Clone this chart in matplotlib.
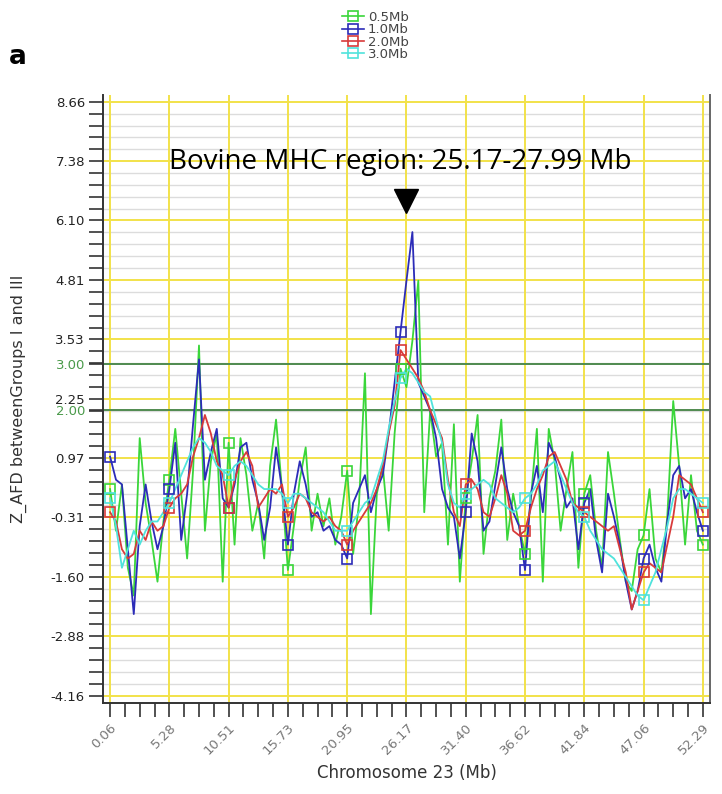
import numpy as np
import matplotlib
matplotlib.use("Agg")
import matplotlib.pyplot as plt
from matplotlib.lines import Line2D
from matplotlib.legend_handler import HandlerLine2D
import matplotlib.transforms as mtransforms

# window centres along chromosome 23 (Mb)
pos = np.linspace(0.06, 52.29, 101)

z_05 = [0.3, -0.6, 0.4, -1.4, -2.0, 1.4, 0.0, -0.8, -1.7, -0.4,
        0.5, 1.6, 0.2, -1.2, 0.7, 3.4, -0.6, 0.9, 1.5, -1.7,
        1.3, -0.9, 1.4, 0.6, -0.6, 0.0, -1.2, 0.8, 1.8, 0.3,
        -1.45, -0.5, 0.5, 1.2, -0.6, 0.2, -0.5, 0.1, -0.9, -0.3,
        0.7, -1.1, 0.0, 2.8, -2.4, 0.2, 0.8, -0.6, 1.5, 2.9,
        2.5, 3.5, 4.8, -0.2, 2.0, 1.0, 1.3, -0.9, 1.7, -1.7,
        0.1, 0.9, 1.9, -1.1, 0.1, 0.7, 1.8, -0.8, 0.2, -0.5,
        -1.1, 0.1, 1.6, -1.7, 1.6, 0.9, -0.6, 0.3, 1.1, -1.4,
        0.2, 0.6, -0.6, -1.4, 1.1, 0.2, -0.8, -1.7, -1.9, -1.0,
        -0.7, 0.3, -1.2, -1.5, -0.3, 2.2, 0.8, -0.9, 0.6, -0.6,
        -0.9]

z_10 = [1.0, 0.5, 0.4, -1.0, -2.4, -0.5, 0.4, -0.4, -1.0, -0.5,
        0.3, 1.3, -0.8, 0.2, 1.7, 3.1, 0.5, 1.1, 1.6, 0.1,
        -0.1, 0.4, 1.2, 1.3, 0.5, 0.0, -0.8, -0.1, 1.2, 0.3,
        -0.9, 0.2, 0.9, 0.4, -0.3, -0.2, -0.6, -0.5, -0.8, -0.9,
        -1.2, 0.0, 0.3, 0.6, -0.2, 0.3, 0.6, 1.5, 2.6, 3.7,
        4.8, 5.85, 2.6, 2.3, 2.0, 1.4, 0.3, -0.1, -0.3, -1.2,
        -0.2, 1.5, 0.9, -0.6, -0.4, 0.4, 1.2, 0.3, -0.2, -0.5,
        -1.45, 0.2, 0.8, -0.2, 1.3, 1.0, 0.5, -0.1, 0.1, -1.0,
        0.0, 0.3, -0.8, -1.5, 0.2, -0.3, -0.9, -1.7, -2.3, -1.9,
        -1.2, -0.9, -1.4, -1.7, -0.4, 0.6, 0.8, 0.1, 0.3, -0.2,
        -0.6]

z_20 = [-0.2, -0.4, -1.0, -1.2, -1.1, -0.6, -0.8, -0.4, -0.6, -0.5,
        -0.1, 0.1, 0.2, 0.4, 1.0, 1.4, 1.9, 1.5, 0.9, 0.6,
        -0.1, 0.5, 0.9, 1.1, 0.8, -0.1, 0.1, 0.3, 0.2, 0.4,
        -0.3, -0.1, 0.2, 0.1, -0.2, -0.3, -0.4, -0.3, -0.5, -0.6,
        -0.9, -0.6, -0.4, -0.2, 0.0, 0.3, 0.8, 1.5, 2.1, 3.3,
        3.1, 2.9, 2.7, 2.4, 2.0, 1.7, 1.4, 0.5, -0.2, -0.5,
        0.4, 0.5, 0.3, -0.2, -0.3, 0.1, 0.6, 0.2, -0.6, -0.7,
        -0.6, -0.1, 0.3, 0.6, 1.0, 1.1, 0.8, 0.5, 0.0, -0.1,
        -0.2, -0.3, -0.4, -0.5, -0.6, -0.5, -1.0, -1.5, -2.3, -1.9,
        -1.5, -1.3, -1.4, -1.5, -0.9, -0.3, 0.6, 0.5, 0.4, 0.1,
        -0.2]

z_30 = [0.1, -0.5, -1.4, -1.0, -0.6, -0.9, -0.6, -0.4, -0.4, -0.2,
        0.0, 0.3, 0.6, 0.9, 1.2, 1.4, 1.3, 1.1, 0.8, 0.7,
        0.6, 0.8, 0.9, 0.8, 0.6, 0.4, 0.3, 0.3, 0.3, 0.2,
        0.0, 0.2, 0.2, 0.1, 0.0, -0.1, -0.2, -0.4, -0.6, -0.6,
        -0.6, -0.4, -0.2, 0.0, 0.1, 0.5, 0.9, 1.6, 2.2, 2.7,
        2.9, 2.8, 2.6, 2.4, 2.3, 1.8, 1.3, 0.4, 0.0, -0.1,
        0.2, 0.3, 0.4, 0.5, 0.4, 0.1, 0.0, -0.1, -0.2, -0.1,
        0.1, 0.2, 0.4, 0.7, 0.8, 0.9, 0.6, 0.3, 0.0, -0.2,
        -0.3, -0.6, -0.8, -1.0, -1.1, -1.2, -1.4, -1.6, -1.8, -2.0,
        -2.1, -1.8, -1.5, -1.0, -0.5, 0.1, 0.3, 0.3, 0.2, 0.1,
        0.0]

series = [("0.5Mb", z_05, "#3ad63a"),
          ("1.0Mb", z_10, "#2c2cb8"),
          ("2.0Mb", z_20, "#d83a3a"),
          ("3.0Mb", z_30, "#4fe3dc")]

xticks = [0.06, 5.28, 10.51, 15.73, 20.95, 26.17, 31.40, 36.62, 41.84, 47.06, 52.29]
yticks = [-4.16, -2.88, -1.60, -0.31, 0.97, 2.25, 3.53, 4.81, 6.10, 7.38, 8.66]
thresholds = [3.00, 2.00]
mhc_label = "Bovine MHC region: 25.17-27.99 Mb"
mhc_pos = 26.17
marker_idx = [0, 10, 20, 30, 40, 49, 60, 70, 80, 90, 100]


class LeftMarkerHandler(HandlerLine2D):
    def get_xdata(self, legend, xdescent, ydescent, width, height, fontsize):
        xline = np.array([-xdescent + 5, -xdescent + width])
        xmark = np.array([-xdescent])
        return xline, xmark


fig = plt.figure(figsize=(7.22, 7.94), dpi=100)
ax = fig.add_axes([0.1427, 0.1146, 0.8407, 0.7658])

# grid
ax.set_xlim(-0.56, 52.92)
ax.set_ylim(-4.32, 8.81)
minor_y = []
for a, b in zip(yticks[:-1], yticks[1:]):
    minor_y += list(np.linspace(a, b, 6)[1:-1])
minor_x = []
for a, b in zip(xticks[:-1], xticks[1:]):
    minor_x += list(np.linspace(a, b, 5)[1:-1])

for y in minor_y:
    ax.axhline(y, color="#dcdcdc", lw=1.0, zorder=0)
for y in yticks:
    ax.axhline(y, color="#f2e24a", lw=1.4, zorder=0.5)
for x in xticks:
    ax.axvline(x, color="#f2e24a", lw=1.4, zorder=0.5)
for t in thresholds:
    ax.axhline(t, color="#4f8a4f", lw=1.4, zorder=0.8)

handles = []
for name, vals, col in series:
    ax.plot(pos, vals, color=col, lw=1.3, zorder=2)
    ax.plot(pos[marker_idx], np.array(vals)[marker_idx], ls="none", marker="s",
            ms=6.5, mfc="none", mec=col, mew=1.2, zorder=3)
    handles.append(Line2D([], [], color=col, lw=1.2, marker="s", ms=6.5,
                          mfc="none", mec=col, mew=1.2, label=name))

# ticks
ax.set_xticks(xticks)
ax.set_xticklabels([f"{v:.2f}" for v in xticks], rotation=45, ha="right",
                   rotation_mode="anchor", color="#777777", fontsize=9.5)
ax.set_xticks(minor_x, minor=True)
ax.set_yticks(yticks + thresholds)
ylabels = ax.set_yticklabels([f"{v:.2f}" for v in yticks + thresholds],
                             fontsize=9.5, color="#222222")
for lab in ylabels[len(yticks):]:
    lab.set_color("#4a9a4a")
ax.set_yticks(minor_y, minor=True)
ax.tick_params(axis="both", which="both", direction="out", color="#333333",
               width=1.2)
ax.tick_params(axis="y", which="both", length=10, pad=3)
ax.tick_params(axis="x", which="both", length=10, pad=3)

for s in ["left", "bottom", "right"]:
    ax.spines[s].set_color("#333333")
    ax.spines[s].set_linewidth(1.4)
ax.spines["right"].set_color("#666666")
ax.spines["top"].set_visible(False)

ax.set_xlabel("Chromosome 23 (Mb)", fontsize=12, color="#333333")
ax.xaxis.set_label_coords(0.5, -0.1)
ax.set_ylabel("Z_AFD betweenGroups I and III", fontsize=11.5, color="#333333")
ax.yaxis.set_label_coords(-0.125, 0.5)

# MHC annotation
trans = mtransforms.blended_transform_factory(ax.transData, ax.transAxes)
ax.plot([mhc_pos], [0.826], transform=trans, marker="v", ms=17, color="black",
        ls="none", zorder=5, clip_on=False)
ax.text(mhc_pos - 0.5, 0.89, mhc_label, transform=trans, ha="center", va="center",
        fontsize=20, family="Open Sans", color="black", zorder=5)

leg = fig.legend(handles=handles, loc="upper center", bbox_to_anchor=(0.515, 0.998),
                 frameon=False, fontsize=9.5, handlelength=2.2, handletextpad=0.3,
                 labelspacing=-0.05, borderpad=0.2,
                 handler_map={Line2D: LeftMarkerHandler()})
for t in leg.get_texts():
    t.set_color("#444444")

fig.text(0.012, 0.928, "a", fontsize=19, fontweight="bold", va="center")

fig.savefig("out.png", dpi=100)
